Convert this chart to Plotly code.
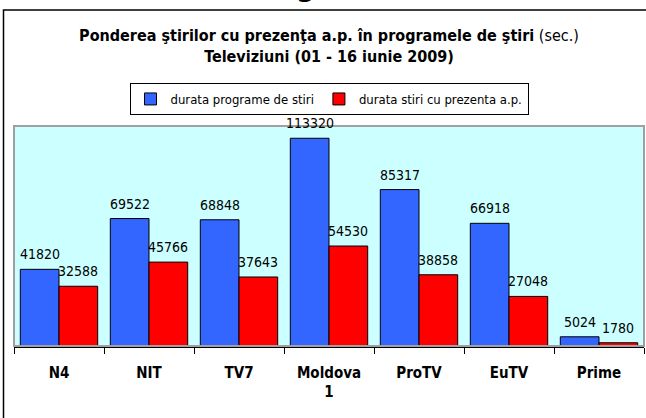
import plotly.graph_objects as go

categories = ["N4", "NIT", "TV7", "Moldova<br>1", "ProTV", "EuTV", "Prime"]
durata_programe = [41820, 69522, 68848, 113320, 85317, 66918, 5024]
durata_stiri_ap = [32588, 45766, 37643, 54530, 38858, 27048, 1780]
series_names = ["durata programe de stiri", "durata stiri cu prezenta a.p."]
series_colors = ["#3366FF", "#FF0000"]

FONT = "Tahoma, 'DejaVu Sans Condensed', 'DejaVu Sans', sans-serif"

W, H = 646, 418
L, R, T, B = 14, 2, 126, 72
PW, PH = W - L - R, H - T - B

fig = go.Figure()
for name, vals, col in zip(series_names, [durata_programe, durata_stiri_ap], series_colors):
    fig.add_trace(go.Bar(
        x=categories, y=vals, name=name,
        marker=dict(color=col, line=dict(color="#000000", width=1)),
    ))

bargap = 0.14
bar_w_px = PW / len(categories) * (1 - bargap) / 2
annotations = []
for vals, sgn in [(durata_programe, -1), (durata_stiri_ap, 1)]:
    for c, v in zip(categories, vals):
        annotations.append(dict(
            x=c, y=v, xref="x", yref="y", text=str(v), showarrow=False,
            xanchor="center", yanchor="bottom", xshift=sgn * bar_w_px / 2, yshift=5,
            font=dict(family=FONT, size=14, color="#000000"),
        ))

# clipped heading glyph at the very top (only its lower edge is visible)
annotations.append(dict(
    x=(305 - L) / PW, y=(H - B - 4.5) / PH, xref="paper", yref="paper",
    text="<b>g</b>", showarrow=False, xanchor="center", yanchor="bottom",
    font=dict(family=FONT, size=30, color="#000000"),
))

shapes = [
    # plot-area border (gray)
    dict(type="rect", xref="paper", yref="paper", x0=0, x1=1, y0=0, y1=1,
         line=dict(color="#A0A0A0", width=2), layer="above"),
    # outer chart border
    dict(type="rect", xref="paper", yref="paper",
         x0=(3.5 - L) / PW, x1=(W + 10 - L) / PW,
         y0=(H - B - 10) / PH, y1=(H - B - (H + 10)) / PH,
         line=dict(color="#000000", width=1.5), layer="below"),
]

fig.update_layout(
    width=W, height=H,
    margin=dict(l=L, r=R, t=T, b=B, autoexpand=False),
    paper_bgcolor="#FFFFFF", plot_bgcolor="#CCFFFF",
    barmode="group", bargap=bargap, bargroupgap=0,
    font=dict(family=FONT, color="#000000"),
    title=dict(
        text="<b>Ponderea ştirilor cu prezenţa a.p. în programele de ştiri</b> (sec.)<br><b>Televiziuni (01 - 16 iunie 2009)</b>",
        x=329 / W, xanchor="center", xref="container",
        y=1 - 41 / H, yanchor="middle", yref="container",
        font=dict(family=FONT, size=16, color="#000000"),
    ),
    legend=dict(
        orientation="h", x=0.5, xanchor="center", xref="paper",
        y=1 - 83 / H, yanchor="top", yref="container",
        bordercolor="#000000", borderwidth=1, bgcolor="#FFFFFF",
        font=dict(family=FONT, size=13, color="#000000"),
        itemwidth=30, traceorder="normal",
    ),
    xaxis=dict(
        showline=True, linecolor="#000000", linewidth=1.5, automargin=False,
        ticks="outside", tickson="boundaries", ticklen=6, tickcolor="#000000", tickwidth=1,
        tickfont=dict(family=FONT, size=15, color="#000000"),
        ticklabelstandoff=12, showgrid=False,
        tickprefix="<b>", ticksuffix="</b>",
    ),
    yaxis=dict(range=[0, 120000], visible=False, showgrid=False, automargin=False),
    annotations=annotations, shapes=shapes,
)

fig.write_html("out.html", config={"displayModeBar": False},
               post_script="document.body.style.margin='0';")
